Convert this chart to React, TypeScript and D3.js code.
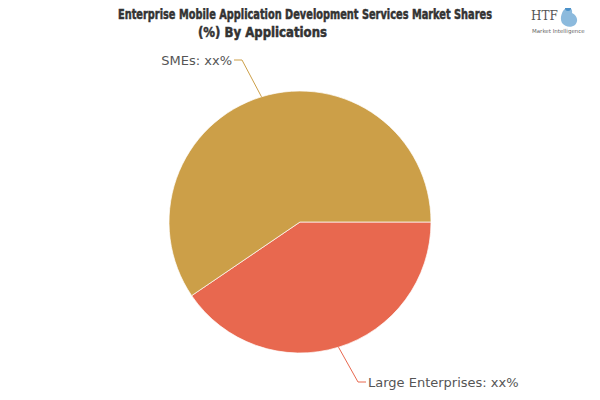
import * as d3 from "d3";

// chart values
const categories = ["Large Enterprises", "SMEs"];
const shares = [40.5, 59.5];
const labels = ["Large Enterprises: xx%", "SMEs: xx%"];
const colors = ["#e8684f", "#cc9f48"];
const titleLines = [
  "Enterprise Mobile Application Development Services Market Shares",
  "(%) By Applications",
];

const width = 600;
const height = 400;
const cx = 300;
const cy = 222;
const radius = 131;

export default function App() {
  const pie = d3.pie<number>()
    .sort(null)
    .startAngle(Math.PI / 2)
    .endAngle(Math.PI / 2 + 2 * Math.PI);
  const arcs = pie(shares);
  const arc = d3.arc<d3.PieArcDatum<number>>().innerRadius(0).outerRadius(radius);

  // label line geometry: edge point -> elbow -> short horizontal
  const labelLines = arcs.map((a, i) => {
    const mid = (a.startAngle + a.endAngle) / 2;
    const p0: [number, number] = [Math.sin(mid) * radius, -Math.cos(mid) * radius];
    const elbowY = i === 0 ? 160 : -162;
    const elbowX = i === 0 ? 58 : -58;
    const side = i === 0 ? 1 : -1;
    const p1: [number, number] = [elbowX, elbowY];
    const p2: [number, number] = [elbowX + side * 8, elbowY];
    return { p0, p1, p2, side, color: colors[i], text: labels[i] };
  });

  return (
    <svg width={width} height={height} style={{ display: "block", margin: "-8px" }}>
      <rect width={width} height={height} fill="#fff" />
      <g
        fontFamily="'Liberation Sans Narrow', 'DejaVu Sans Condensed', sans-serif"
        fontWeight="bold"
        fill="#333"
        stroke="#333"
        strokeWidth={0.5}
        fontSize={14}
      >
        <text x={118} y={19} textLength={374} lengthAdjust="spacingAndGlyphs">{titleLines[0]}</text>
        <text x={198} y={37} textLength={129} lengthAdjust="spacingAndGlyphs">{titleLines[1]}</text>
      </g>
      {/* logo */}
      <g transform="translate(531,4)">
        <text x={0} y={16} fontFamily="'DejaVu Serif', serif" fontSize={12} fill="#555">HTF</text>
        <path d="M32,7 C36,1 42,3 41,9 C46,11 48,17 44,21 C40,24 34,23 31,19 C29,15 30,11 32,7 Z" fill="#7fb3d9" opacity={0.9} />
        <circle cx={37} cy={4} r={3} fill="#4a90c8" />
        <text x={1} y={29} fontFamily="'DejaVu Sans', sans-serif" fontSize={5.5} fill="#666">Market Intelligence</text>
      </g>
      <g transform={`translate(${cx},${cy})`}>
        {arcs.map((a, i) => (
          <path key={categories[i]} d={arc(a) ?? ""} fill={colors[i]} stroke="#fff" strokeWidth={0.7} />
        ))}
        {labelLines.map((l, i) => (
          <g key={i}>
            <polyline points={[l.p0, l.p1, l.p2].map((p) => p.join(",")).join(" ")} fill="none" stroke={l.color} strokeWidth={1} />
            <text
              x={l.p2[0] + l.side * 2}
              y={l.p2[1]}
              dy="0.35em"
              textAnchor={l.side > 0 ? "start" : "end"}
              fontFamily="'DejaVu Sans', sans-serif"
              fontSize={13}
              fill="#555"
            >
              {l.text}
            </text>
          </g>
        ))}
      </g>
    </svg>
  );
}
